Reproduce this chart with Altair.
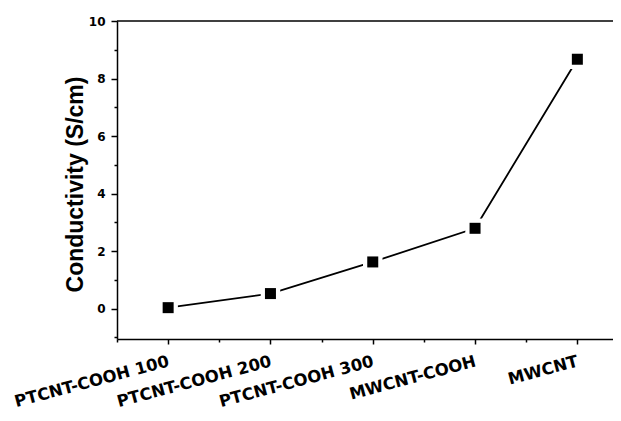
import json
import altair as alt
import pandas as pd

# ---- data ----
categories = ["PTCNT-COOH 100", "PTCNT-COOH 200", "PTCNT-COOH 300", "MWCNT-COOH", "MWCNT"]
positions = [1, 2, 3, 4, 5]
conductivity = [0.03, 0.52, 1.62, 2.79, 8.67]

x_tick_values = [0.5, 1, 1.5, 2, 2.5, 3, 3.5, 4, 4.5, 5]
y_tick_values = [-1, 0, 1, 2, 3, 4, 5, 6, 7, 8, 9, 10]

df = pd.DataFrame({"pos": positions, "cat": categories, "val": conductivity})
frame_top = pd.DataFrame({"val": [10]})

W, H = 496, 318
STEP = 102.3

xscale = alt.Scale(domain=[0.5, 0.5 + W / STEP], nice=False, zero=False)
yscale = alt.Scale(domain=[-1.06, 10], nice=False, zero=False)

label_expr_x = "datum.value % 1 === 0 ? " + json.dumps(categories) + "[datum.value - 1] : ''"

x_axis = alt.Axis(
    values=x_tick_values,
    labelExpr=label_expr_x,
    title=None,
    grid=False,
    domainColor="black",
    domainWidth=1.5,
    tickColor="black",
    tickWidth=1.5,
    tickSize={"condition": {"test": "datum.value % 1 === 0", "value": 5}, "value": 3},
    labelAngle=345,
    labelAlign="right",
    labelBaseline="top",
    labelPadding=9,
    labelFont="DejaVu Sans",
    labelFontWeight="bold",
    labelFontSize=16.5,
    labelColor="black",
    labelOverlap=False,
    labelFlush=False,
    labelOffset=-2,
)

y_axis = alt.Axis(
    values=y_tick_values,
    labelExpr="datum.value >= 0 && datum.value % 2 === 0 ? datum.label : ''",
    title="Conductivity (S/cm)",
    grid=False,
    domainColor="black",
    domainWidth=1.5,
    tickColor="black",
    tickWidth=1.5,
    tickSize={"condition": {"test": "datum.value % 2 === 0", "value": 6}, "value": 3},
    labelPadding=6,
    labelFont="DejaVu Sans",
    labelFontWeight="bold",
    labelFontSize=12,
    labelColor="black",
    labelOverlap=False,
    labelFlush=False,
    titleFont="Liberation Sans",
    titleFontWeight="bold",
    titleFontSize=23,
    titleColor="black",
    titleAngle=270,
    titleAlign="center",
    titleBaseline="middle",
    titleX=-42,
    titleY=163,
)

xenc = alt.X("pos:Q", scale=xscale, axis=x_axis)
yenc = alt.Y("val:Q", scale=yscale, axis=y_axis)

base = alt.Chart(df)

line = base.mark_line(color="black", strokeWidth=1.8).encode(x=xenc, y=yenc)
halo = base.mark_point(shape="square", filled=True, color="white", opacity=1, size=380).encode(x=xenc, y=yenc)
pts = base.mark_point(shape="square", filled=True, color="black", opacity=1, size=121).encode(x=xenc, y=yenc)
top = alt.Chart(frame_top).mark_rule(color="black", strokeWidth=1.5).encode(y=yenc)

chart = (
    alt.layer(line, halo, pts, top)
    .properties(
        width=W,
        height=H,
        padding={"left": 109, "top": 13, "right": 0, "bottom": 74},
        autosize=alt.AutoSizeParams(type="none"),
        background="white",
    )
    .configure_view(stroke=None)
)

chart.save("out.html", embed_options={"renderer": "svg", "actions": False})
